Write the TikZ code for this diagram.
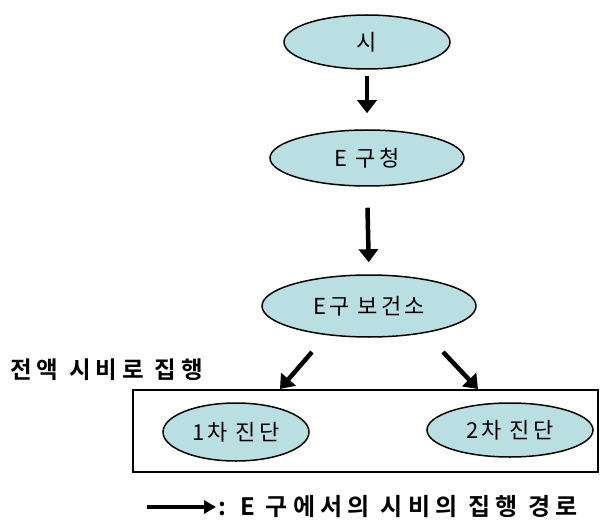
\documentclass[tikz,border=0pt]{standalone}
\usepackage{fontspec}
\newfontfamily\kr[LetterSpace=14]{Noto Sans CJK KR}
\newfontfamily\krb[LetterSpace=22]{Noto Sans CJK KR Bold}
\usetikzlibrary{shapes.geometric,arrows.meta}
\tikzset{
  oval/.style={ellipse, draw=black, line width=1.5pt, fill=ovalfill, inner sep=0pt, font=\kr\fontsize{22}{25}\selectfont},
  flow/.style={line width=4.5pt, -{Triangle[width=19pt,length=13pt]}},
}
\definecolor{ovalfill}{HTML}{B9DFE3}
\begin{document}
\begin{tikzpicture}[x=1pt,y=1pt]
\useasboundingbox (0,0) rectangle (601,520);
\node[oval, minimum width=166, minimum height=54] (si) at (367,478) {시};
\node[oval, minimum width=194, minimum height=56] (gu) at (367,362) {E 구청};
\node[oval, minimum width=214, minimum height=62] (bo) at (369,214) {E구 보건소};
\draw[line width=2pt] (133,130) rectangle (598,48);
\coordinate (boxtop) at (365,130);
\node[oval, minimum width=146, minimum height=58] (d1) at (236,88) {1차 진단};
\node[oval, minimum width=166, minimum height=54] (d2) at (510,90) {2차 진단};
\node[font=\krb\fontsize{23.5}{26}\selectfont, anchor=west, inner sep=0pt] (lab) at (10,150) {전액 시비로 집행};
\draw[flow, shorten <=6pt, shorten >=16pt] (si.south) -- (gu.north);
\draw[flow, shorten <=21pt, shorten >=12pt] (gu.south) -- (bo.north);
\coordinate (l1) at (312,168); \coordinate (l2) at (280,131);
\coordinate (r1) at (443,168); \coordinate (r2) at (478,131);
\draw[flow] (l1) -- (l2);
\draw[flow] (r1) -- (r2);
\coordinate (a1) at (147,13); \coordinate (a2) at (216,13);
\draw[line width=3.5pt, -{Triangle[width=13pt,length=12pt]}] (a1) -- (a2);
\node[font=\krb\fontsize{24}{26}\selectfont, anchor=west, inner sep=0pt] (leg) at (218,13) {: E 구에서의 시비의 집행 경로};
\end{tikzpicture}
\end{document}
